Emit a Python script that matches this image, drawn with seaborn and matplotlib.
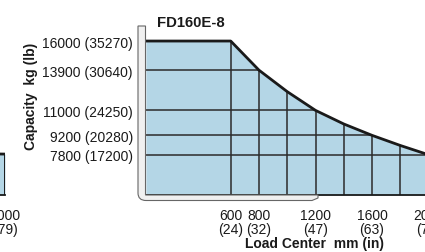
import matplotlib
matplotlib.use("Agg")
import matplotlib.pyplot as plt
from matplotlib.path import Path
from matplotlib.patches import PathPatch
import seaborn as sns

sns.set_theme(style="white")
plt.rcParams['font.family'] = ['Liberation Sans', 'DejaVu Sans']

# capacity curve of the FD160E-8 (kg vs load center mm)
load_center = [0, 600, 800, 1000, 1200, 1400, 1600, 1800, 2000]
capacity = [16000, 16000, 13900, 12350, 11000, 10020, 9200, 8470, 7800]

y_ticks = [16000, 13900, 11000, 9200, 7800]
y_labels = ["16000 (35270)", "13900 (30640)", "11000 (24250)", "9200 (20280)", "7800 (17200)"]
x_ticks = [600, 800, 1200, 1600, 2000]
x_labels = ["600\n(24)", "800\n(32)", "1200\n(47)", "1600\n(63)", "2000\n(79)"]
x_minor = [1000, 1400, 1800]

# tail end of the neighbouring chart, cut off at the left edge
left_load = [1800, 2000]
left_cap = [7880, 7850]
left_ticks = [2000]
left_labels = ["2000\n(79)"]

BLUE = "#b4d6e6"
INK = "#1a1a1a"
YMIN, YMAX = 4900, 16500
W, H = 425, 253


def px(x0, y0, x1, y1):
    return [x0 / W, 1 - y1 / H, (x1 - x0) / W, (y1 - y0) / H]


def draw_chart(ax, xs, ys, ticks, labels, minor, yt, ytl):
    poly = ax.fill_between(xs, ys, YMIN, color=BLUE, lw=0, zorder=1)
    clip = poly.get_paths()[0]
    v = ax.vlines(ticks + minor, YMIN, YMAX, color="#2b2b2b", lw=1.1, zorder=2)
    v.set_clip_path(clip, ax.transData)
    if yt:
        h = ax.hlines(yt, 0, 2000, color="#2b2b2b", lw=1.1, zorder=2)
        h.set_clip_path(clip, ax.transData)
    sns.lineplot(x=xs, y=ys, ax=ax, color=INK, lw=2, zorder=3)
    ax.set_xlim(0, 2000)
    ax.set_ylim(YMIN, YMAX)
    ax.set_xticks(ticks, labels)
    ax.set_yticks(yt, ytl)
    ax.set_facecolor("none")
    for s in ["top", "right", "left"]:
        ax.spines[s].set_visible(False)
    ax.spines["bottom"].set_color(INK)
    ax.spines["bottom"].set_linewidth(1.3)
    ax.tick_params(axis="x", length=0, labelsize=10, colors=INK, pad=9.4)
    ax.tick_params(axis="y", length=0, labelsize=10, colors=INK, pad=9.3)
    for lbl in ax.get_xticklabels():
        lbl.set_linespacing(0.95)
    ax.set_xlabel("")
    ax.set_ylabel("")


fig = plt.figure(figsize=(W / 100, H / 100), dpi=100)

ax0 = fig.add_axes(px(5 - 282.7, 35.1, 5, 196))
draw_chart(ax0, left_load, left_cap, left_ticks, left_labels, [], [], [])
ax0.vlines(left_load[-1], YMIN, left_cap[-1], color=INK, lw=1.3, zorder=3)

ax = fig.add_axes(px(145.9, 35.1, 428.6, 196))
draw_chart(ax, load_center, capacity, x_ticks, x_labels, x_minor, y_ticks, y_labels)

ax.set_title("FD160E-8", loc="left", x=0.039, y=1.05, pad=0,
             fontsize=10.7, fontweight="bold", color=INK)
ax.set_xlabel("Load Center  mm (in)", fontsize=10, fontweight="bold", color=INK)
ax.xaxis.set_label_coords(0.598, -0.255)
ax.set_ylabel("Capacity  kg (lb)", fontsize=10, fontweight="bold", color=INK, va="center")
ax.yaxis.set_label_coords(-0.406, 0.62)

# grey L-shaped frame around the left and bottom of the chart
pts = [(138, 27), (145.5, 27), (145.5, 196), (318, 196), (318, 199), (312, 201.5),
       (146, 201.5), (138, 201.5), (138, 194), (138, 27)]
codes = [Path.MOVETO, Path.LINETO, Path.LINETO, Path.LINETO, Path.LINETO, Path.LINETO,
         Path.LINETO, Path.CURVE3, Path.CURVE3, Path.CLOSEPOLY]
frame = Path([(x / W, 1 - y / H) for x, y in pts], codes)
fig.add_artist(PathPatch(frame, transform=fig.transFigure, facecolor="#f0f0f0",
                         edgecolor="#666666", lw=0.8, zorder=0.5))

fig.savefig("out.png", dpi=100)
